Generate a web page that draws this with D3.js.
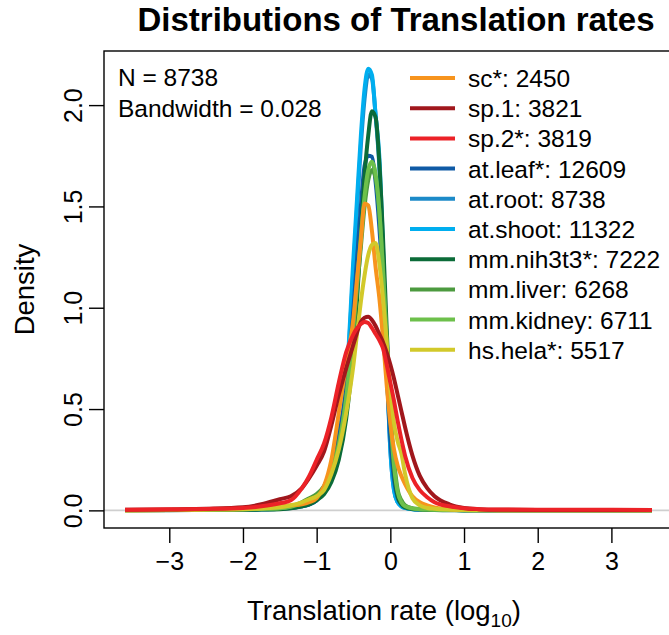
<!DOCTYPE html>
<html>
<head>
<meta charset="utf-8">
<script src="https://cdn.jsdelivr.net/npm/d3@7"></script>
<style>
  html, body { margin: 0; padding: 0; background: #fff; }
  svg { display: block; font-family: "Liberation Sans", Arial, Helvetica, sans-serif; }
</style>
</head>
<body>
<svg id="chart" width="669" height="635"></svg>
<script>
// Evaluation grid of translation rates (log10) shared by all density curves
const rates = [-3.6, -3.0, -2.5, -2.0, -1.75, -1.5, -1.35, -1.2, -1.1, -1.0,
  -0.9, -0.8, -0.7, -0.6, -0.5, -0.45, -0.4, -0.35, -0.3, -0.25,
  -0.2, -0.15, -0.1, -0.05, 0, 0.05, 0.1, 0.15, 0.2, 0.3,
  0.4, 0.5, 0.6, 0.8, 1.0, 1.2, 1.5, 2.0, 2.5, 3.0, 3.55];

// Kernel density estimates per sample
const scDensity = [0.001, 0.002, 0.005, 0.01, 0.014, 0.02, 0.025, 0.03, 0.04, 0.06,
  0.12, 0.25, 0.48, 0.72, 0.95, 1.15, 1.33, 1.515, 1.505, 1.38,
  1.2, 1.05, 0.85, 0.62, 0.43, 0.3, 0.22, 0.17, 0.13, 0.07,
  0.04, 0.025, 0.015, 0.006, 0.003, 0.002, 0.001, 0.001, 0.001, 0.001, 0.001];
const sp1Density = [0.003, 0.004, 0.008, 0.015, 0.03, 0.055, 0.07, 0.11, 0.16, 0.22,
  0.29, 0.42, 0.57, 0.7, 0.82, 0.88, 0.93, 0.95, 0.955, 0.94,
  0.91, 0.87, 0.83, 0.78, 0.72, 0.65, 0.57, 0.49, 0.41, 0.27,
  0.17, 0.11, 0.07, 0.03, 0.012, 0.006, 0.003, 0.002, 0.002, 0.002, 0.002];
const sp2Density = [0.003, 0.005, 0.007, 0.012, 0.02, 0.035, 0.05, 0.11, 0.17, 0.25,
  0.33, 0.46, 0.63, 0.78, 0.87, 0.9, 0.92, 0.93, 0.925, 0.9,
  0.87, 0.84, 0.8, 0.72, 0.63, 0.54, 0.44, 0.35, 0.27, 0.16,
  0.1, 0.065, 0.04, 0.02, 0.01, 0.006, 0.004, 0.003, 0.003, 0.003, 0.002];
const atLeafDensity = [0.002, 0.002, 0.003, 0.004, 0.005, 0.008, 0.012, 0.02, 0.03, 0.05,
  0.1, 0.2, 0.36, 0.6, 1.0, 1.25, 1.5, 1.7, 1.75, 1.745,
  1.62, 1.4, 1.1, 0.7, 0.35, 0.15, 0.06, 0.03, 0.02, 0.008,
  0.004, 0.003, 0.002, 0.002, 0.001, 0.001, 0.001, 0.001, 0.001, 0.001, 0.001];
const atRootDensity = [0.002, 0.002, 0.003, 0.004, 0.005, 0.008, 0.012, 0.02, 0.03, 0.05,
  0.1, 0.2, 0.36, 0.6, 1.2, 1.5, 1.8, 2.03, 2.15, 2.13,
  1.95, 1.7, 1.28, 0.74, 0.3, 0.1, 0.04, 0.02, 0.012, 0.006,
  0.004, 0.003, 0.002, 0.002, 0.001, 0.001, 0.001, 0.001, 0.001, 0.001, 0.001];
const atShootDensity = [0.002, 0.002, 0.003, 0.004, 0.005, 0.01, 0.015, 0.025, 0.04, 0.06,
  0.11, 0.22, 0.38, 0.62, 1.25, 1.55, 1.85, 2.08, 2.18, 2.15,
  1.95, 1.75, 1.3, 0.75, 0.3, 0.1, 0.04, 0.02, 0.012, 0.006,
  0.004, 0.003, 0.002, 0.002, 0.001, 0.001, 0.001, 0.001, 0.001, 0.001, 0.001];
const mmNih3t3Density = [0.001, 0.001, 0.002, 0.003, 0.004, 0.006, 0.01, 0.02, 0.03, 0.05,
  0.08, 0.14, 0.25, 0.45, 0.8, 1.05, 1.35, 1.65, 1.85, 1.97,
  1.94, 1.72, 1.35, 0.9, 0.5, 0.2, 0.07, 0.03, 0.015, 0.007,
  0.005, 0.003, 0.002, 0.001, 0.001, 0.001, 0.001, 0.001, 0.001, 0.001, 0.001];
const mmLiverDensity = [0.001, 0.002, 0.003, 0.005, 0.007, 0.01, 0.02, 0.04, 0.06, 0.08,
  0.12, 0.2, 0.33, 0.55, 0.9, 1.1, 1.3, 1.5, 1.63, 1.68,
  1.64, 1.48, 1.2, 0.85, 0.5, 0.25, 0.1, 0.05, 0.025, 0.01,
  0.006, 0.004, 0.003, 0.002, 0.001, 0.001, 0.001, 0.001, 0.001, 0.001, 0.001];
const mmKidneyDensity = [0.001, 0.002, 0.003, 0.005, 0.007, 0.01, 0.018, 0.035, 0.05, 0.07,
  0.11, 0.19, 0.32, 0.55, 0.92, 1.13, 1.35, 1.55, 1.68, 1.72,
  1.66, 1.48, 1.18, 0.82, 0.47, 0.22, 0.09, 0.04, 0.02, 0.01,
  0.006, 0.004, 0.003, 0.002, 0.001, 0.001, 0.001, 0.001, 0.001, 0.001, 0.001];
const hsHelaDensity = [0.001, 0.002, 0.004, 0.006, 0.009, 0.015, 0.025, 0.04, 0.055, 0.07,
  0.1, 0.18, 0.3, 0.48, 0.72, 0.88, 1.03, 1.16, 1.26, 1.31,
  1.32, 1.22, 1.05, 0.83, 0.6, 0.43, 0.34, 0.28, 0.18, 0.06,
  0.025, 0.012, 0.008, 0.004, 0.002, 0.001, 0.001, 0.001, 0.001, 0.001, 0.001];

// Sample names, gene counts and colours (legend order)
const sampleNames = ["sc*", "sp.1", "sp.2*", "at.leaf*", "at.root", "at.shoot",
  "mm.nih3t3*", "mm.liver", "mm.kidney", "hs.hela*"];
const sampleCounts = [2450, 3821, 3819, 12609, 8738, 11322, 7222, 6268, 6711, 5517];
const sampleColors = ["#F7941D", "#A0171C", "#EC2227", "#0F5AA5", "#1C8AC8", "#00AEEF",
  "#0B6B38", "#4C9A3F", "#6DC04B", "#D2C92A"];
const sampleDensities = [scDensity, sp1Density, sp2Density, atLeafDensity, atRootDensity,
  atShootDensity, mmNih3t3Density, mmLiverDensity, mmKidneyDensity, hsHelaDensity];
// Order in which the curves are stacked (last on top)
const drawOrder = [4, 5, 3, 6, 7, 8, 0, 9, 1, 2];

const xTicks = [-3, -2, -1, 0, 1, 2, 3];
const yTicks = [0, 0.5, 1, 1.5, 2];
const titleText = "Distributions of Translation rates";
const bandwidthNote = ["N = 8738", "Bandwidth = 0.028"];

const svg = d3.select("#chart");
const W = 669, H = 635;
const plot = { left: 104, right: 673, top: 51, bottom: 528 };

const x = d3.scaleLinear().domain([-3.886, 3.836]).range([plot.left, plot.right]);
const y = d3.scaleLinear().domain([-0.087, 2.267]).range([plot.bottom, plot.top]);

svg.append("rect").attr("width", W).attr("height", H).attr("fill", "#fff");

// zero reference line
svg.append("line")
  .attr("x1", plot.left).attr("x2", plot.right)
  .attr("y1", y(0)).attr("y2", y(0))
  .attr("stroke", "#cfcfcf").attr("stroke-width", 1.6);

// density curves
const line = d3.line()
  .x((d, i) => x(rates[i]))
  .y(d => y(d))
  .curve(d3.curveMonotoneX);

svg.append("g").attr("class", "curves")
  .selectAll("path")
  .data(drawOrder)
  .join("path")
  .attr("d", k => line(sampleDensities[k]))
  .attr("fill", "none")
  .attr("stroke", k => sampleColors[k])
  .attr("stroke-width", 4)
  .attr("stroke-linejoin", "round")
  .attr("stroke-linecap", "butt");

// plot frame
svg.append("rect")
  .attr("x", plot.left).attr("y", plot.top)
  .attr("width", plot.right - plot.left).attr("height", plot.bottom - plot.top)
  .attr("fill", "none").attr("stroke", "#000").attr("stroke-width", 1.4);

// axes
const xAxis = svg.append("g")
  .attr("transform", `translate(0,${plot.bottom})`)
  .call(d3.axisBottom(x).tickValues(xTicks).tickSize(15).tickPadding(9)
    .tickFormat(d3.format("d")));
xAxis.select(".domain").remove();
xAxis.selectAll(".tick line").attr("stroke", "#000").attr("stroke-width", 1.4);
xAxis.selectAll(".tick text").attr("font-size", 25).attr("fill", "#000")
  .attr("font-family", "Liberation Sans, Arial, sans-serif");

const yAxis = svg.append("g")
  .attr("transform", `translate(${plot.left},0)`)
  .call(d3.axisLeft(y).tickValues(yTicks).tickSize(15).tickFormat(d3.format(".1f")));
yAxis.select(".domain").remove();
yAxis.selectAll(".tick line").attr("stroke", "#000").attr("stroke-width", 1.4);
yAxis.selectAll(".tick text")
  .attr("font-size", 25).attr("fill", "#000")
  .attr("font-family", "Liberation Sans, Arial, sans-serif")
  .attr("x", null).attr("dy", null)
  .attr("text-anchor", "middle")
  .attr("transform", "translate(-22,0) rotate(-90)");

// title and axis titles
svg.append("text")
  .attr("x", 396).attr("y", 31)
  .attr("text-anchor", "middle")
  .attr("font-size", 33).attr("font-weight", "bold")
  .text(titleText);

const xTitle = svg.append("text")
  .attr("x", 384).attr("y", 620)
  .attr("text-anchor", "middle")
  .attr("font-size", 27.5);
xTitle.append("tspan").text("Translation rate (log");
xTitle.append("tspan").attr("font-size", 19).attr("dy", 7).text("10");
xTitle.append("tspan").attr("dy", -7).text(")");

svg.append("text")
  .attr("transform", `translate(34,${(plot.top + plot.bottom) / 2}) rotate(-90)`)
  .attr("text-anchor", "middle")
  .attr("font-size", 27.5)
  .text("Density");

// sample size / bandwidth note
svg.append("g").selectAll("text")
  .data(bandwidthNote)
  .join("text")
  .attr("x", 118)
  .attr("y", (d, i) => 86 + i * 31)
  .attr("font-size", 24.5)
  .text(d => d);

// legend
const legend = svg.append("g").attr("class", "legend");
const rows = legend.selectAll("g")
  .data(sampleNames)
  .join("g")
  .attr("transform", (d, i) => `translate(0,${78 + i * 30.2})`);
rows.append("line")
  .attr("x1", 410).attr("x2", 455)
  .attr("stroke", (d, i) => sampleColors[i])
  .attr("stroke-width", 4);
rows.append("text")
  .attr("x", 468).attr("y", 9)
  .attr("font-size", 24.5)
  .text((d, i) => `${d}: ${sampleCounts[i]}`);
</script>
</body>
</html>
